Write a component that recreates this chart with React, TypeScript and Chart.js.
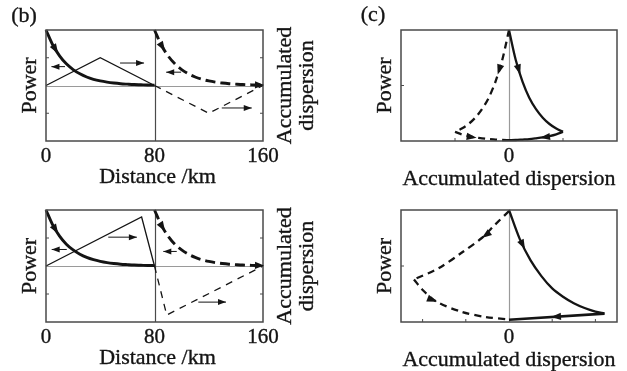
import React, { useEffect, useRef } from "react";
import { Chart, registerables } from "chart.js";

Chart.register(...registerables);

// ---------------- data ----------------
// (b) distance axis
const distanceTickValues = [0, 80, 160];
const distanceTickLabels = ["0", "80", "160"];
// power along one 80 km span (normalised)
const span1Km = [0, 5, 10, 15, 20, 25, 30, 35, 40, 45, 50, 55, 60, 65, 70, 75, 80];
const span2Km = [80, 85, 90, 95, 100, 105, 110, 115, 120, 125, 130, 135, 140, 145, 150, 155, 160];
const spanPower = [1, 0.73, 0.535, 0.39, 0.287, 0.21, 0.153, 0.112, 0.082, 0.06, 0.044, 0.032, 0.024, 0.017, 0.013, 0.009, 0.007];

// (b) top: accumulated dispersion
const dispTopSolidKm = [0, 40, 80];
const dispTopSolid = [0, 1, 0];
const dispTopDashKm = [80, 120, 160];
const dispTopDash = [0, -1, 0];
// (b) bottom: accumulated dispersion
const dispBotSolidKm = [0, 70.5, 80];
const dispBotSolid = [0, 1.75, 0];
const dispBotDashKm = [80, 89, 160];
const dispBotDash = [0, -1.75, 0];

// (b) small direction arrows [x1, y1, x2, y2] in (km, dispersion units)
const bTopArrows = [
  [14, 0.68, 4, 0.68],
  [54.6, 0.81, 72.3, 0.81],
  [99.6, 0.48, 88.6, 0.48],
  [129.6, -0.81, 151.7, -0.81],
];
const bBotArrows = [
  [15.3, 0.59, 4.2, 0.59],
  [45.9, 1.03, 67, 1.03],
  [96.4, 0.52, 86.5, 0.52],
  [112.3, -1.29, 132.7, -1.29],
];

// (c) top: power vs accumulated dispersion
const cTopOutD = [0, 0.125, 0.25, 0.375, 0.5, 0.625, 0.75, 0.875, 1];
const cTopOutP = [1, 0.73, 0.535, 0.39, 0.287, 0.21, 0.153, 0.112, 0.082];
const cTopBackD = [1, 0.875, 0.75, 0.625, 0.5, 0.375, 0.25, 0.125, 0];
const cTopBackP = [0.082, 0.06, 0.044, 0.032, 0.024, 0.017, 0.013, 0.009, 0.007];
const cTopDashOutD = [0, -0.125, -0.25, -0.375, -0.5, -0.625, -0.75, -0.875, -1];
const cTopDashBackD = [-1, -0.875, -0.75, -0.625, -0.5, -0.375, -0.25, -0.125, 0];

// (c) bottom
const cBotOutD = [0, 0.25, 0.5, 0.75, 1, 1.25, 1.5, 1.75, 2, 2.21];
const cBotOutP = [1, 0.74, 0.55, 0.41, 0.3, 0.226, 0.168, 0.125, 0.093, 0.075];
const cBotBackD = [2.21, 0];
const cBotBackP = [0.075, 0.02];
const cBotDashOutD = [0, -0.32, -0.63, -1.09, -1.63, -2.2];
const cBotDashOutP = [0.99, 0.87, 0.75, 0.62, 0.48, 0.38];
const cBotDashBackD = [-2.2, -2.01, -1.67, -1.09, -0.55, 0];
const cBotDashBackP = [0.38, 0.29, 0.18, 0.09, 0.045, 0.022];

const zeroTickLabel = ["0"];
const powerTitle = "Power";
const distanceTitle = "Distance /km";
const dispersionTitleLines = ["Accumulated", "dispersion"];
const dispersionTitle = "Accumulated dispersion";

// ---------------- styling ----------------
const INK = "#141414";
const FRAME = "#4a4a4a";
const ZERO = "#9a9a9a";
const FONT = '"Liberation Serif", "Times New Roman", serif';

function series(xs: number[], ys: number[], opts: any) {
  return {
    data: xs.map((x, i) => ({ x, y: ys[i] })),
    pointRadius: 0,
    borderColor: INK,
    backgroundColor: INK,
    fill: false,
    clip: false,
    ...opts,
  };
}

function drawHead(ctx: CanvasRenderingContext2D, x: number, y: number, dx: number, dy: number, len: number, half: number) {
  const m = Math.hypot(dx, dy) || 1;
  const ux = dx / m, uy = dy / m;
  const bx = x - ux * len, by = y - uy * len;
  ctx.beginPath();
  ctx.moveTo(x, y);
  ctx.lineTo(bx - uy * half, by + ux * half);
  ctx.lineTo(bx + uy * half, by - ux * half);
  ctx.closePath();
  ctx.fill();
}

function boldText(ctx: CanvasRenderingContext2D, s: string, x: number, y: number) {
  ctx.fillText(s, x, y);
  ctx.strokeText(s, x, y);
}

const panelPlugin = {
  id: "panelDecor",
  beforeDatasetsDraw(chart: any, _a: any, o: any) {
    const { ctx, chartArea: a } = chart;
    ctx.save();
    ctx.lineWidth = 1.2;
    if (o.hZeroAxis) {
      const y = Math.round(chart.scales[o.hZeroAxis].getPixelForValue(0)) + 0.5;
      ctx.strokeStyle = ZERO;
      ctx.beginPath(); ctx.moveTo(a.left, y); ctx.lineTo(a.right, y); ctx.stroke();
    }
    if (o.vLine !== undefined) {
      const x = Math.round(chart.scales.x.getPixelForValue(o.vLine)) + 0.5;
      ctx.strokeStyle = o.vLineColor;
      ctx.beginPath(); ctx.moveTo(x, a.top); ctx.lineTo(x, a.bottom); ctx.stroke();
    }
    ctx.strokeStyle = FRAME;
    ctx.lineWidth = 1;
    (o.leftTicks || []).forEach((v: number) => {
      const y = chart.scales[o.leftAxis].getPixelForValue(v);
      ctx.beginPath(); ctx.moveTo(a.left, y); ctx.lineTo(a.left + 3, y); ctx.stroke();
    });
    (o.rightTicks || []).forEach((v: number) => {
      const y = chart.scales[o.rightAxis].getPixelForValue(v);
      ctx.beginPath(); ctx.moveTo(a.right, y); ctx.lineTo(a.right - 3, y); ctx.stroke();
    });
    (o.bottomTicks || []).forEach((v: number) => {
      const x = chart.scales.x.getPixelForValue(v);
      ctx.beginPath(); ctx.moveTo(x, a.bottom); ctx.lineTo(x, a.bottom - 3); ctx.stroke();
    });
    ctx.restore();
  },
  afterDatasetsDraw(chart: any, _a: any, o: any) {
    const { ctx, chartArea: a } = chart;
    ctx.save();
    ctx.strokeStyle = FRAME;
    ctx.lineWidth = 1.5;
    ctx.strokeRect(a.left, a.top, a.right - a.left, a.bottom - a.top);
    ctx.fillStyle = INK;
    ctx.strokeStyle = INK;
    chart.data.datasets.forEach((ds: any, i: number) => {
      const pts = chart.getDatasetMeta(i).data;
      (ds.arrowAt || []).forEach((at: number) => {
        const k = Math.floor(at), t = at - k;
        const p0 = pts[k], p1 = pts[k + 1];
        const x = p0.x + (p1.x - p0.x) * t, y = p0.y + (p1.y - p0.y) * t;
        drawHead(ctx, x, y, p1.x - p0.x, p1.y - p0.y, 10, 3.6);
      });
      if (ds.arrowEnd) {
        const p0 = pts[pts.length - 2], p1 = pts[pts.length - 1];
        drawHead(ctx, p1.x + 1, p1.y, p1.x - p0.x, p1.y - p0.y, 9, 3.6);
      }
    });
    if (o.arrows) {
      const ys = chart.scales[o.arrowAxis];
      ctx.lineWidth = 1;
      o.arrows.forEach((ar: number[]) => {
        const x1 = chart.scales.x.getPixelForValue(ar[0]);
        const y1 = ys.getPixelForValue(ar[1]);
        const x2 = chart.scales.x.getPixelForValue(ar[2]);
        const y2 = ys.getPixelForValue(ar[3]);
        ctx.beginPath(); ctx.moveTo(x1, y1); ctx.lineTo(x2, y2); ctx.stroke();
        drawHead(ctx, x2, y2, x2 - x1, y2 - y1, 8, 3);
      });
    }
    ctx.fillStyle = INK;
    ctx.strokeStyle = INK;
    ctx.lineWidth = 0.35;
    ctx.textAlign = "center";
    ctx.textBaseline = "middle";
    if (o.tag) {
      ctx.font = `22px ${FONT}`;
      boldText(ctx, o.tag, o.tagX, o.tagY);
    }
    ctx.font = `21px ${FONT}`;
    (o.tickValues || []).forEach((v: number, i: number) => {
      boldText(ctx, o.tickLabels[i], chart.scales.x.getPixelForValue(v), a.bottom + 15);
    });
    ctx.font = `22px ${FONT}`;
    if (o.xTitle) boldText(ctx, o.xTitle, (a.left + a.right) / 2 + (o.xTitleShift || 0), a.bottom + o.xTitleGap);
    const cy = (a.top + a.bottom) / 2;
    if (o.yTitle) {
      ctx.save(); ctx.translate(a.left - 16, cy); ctx.rotate(-Math.PI / 2);
      boldText(ctx, o.yTitle, 0, 0); ctx.restore();
    }
    (o.y2Title || []).forEach((line: string, i: number) => {
      ctx.save(); ctx.translate(a.right + 22 + i * 22, cy); ctx.rotate(-Math.PI / 2);
      boldText(ctx, line, 0, 0); ctx.restore();
    });
    ctx.restore();
  },
};

function bConfig(bottom: boolean) {
  const dsK = bottom ? dispBotSolidKm : dispTopSolidKm;
  const ds = bottom ? dispBotSolid : dispTopSolid;
  const ddK = bottom ? dispBotDashKm : dispTopDashKm;
  const dd = bottom ? dispBotDash : dispTopDash;
  return {
    type: "line",
    data: {
      datasets: [
        series(dsK, ds, { yAxisID: "yD", borderWidth: 1.3, tension: 0 }),
        series(ddK, dd, { yAxisID: "yD", borderWidth: 1.3, tension: 0, borderDash: [7, 6] }),
        series(span1Km, spanPower, { yAxisID: "yP", borderWidth: 2.9, cubicInterpolationMode: "monotone", arrowAt: [1.8] }),
        series(span2Km, spanPower, { yAxisID: "yP", borderWidth: 2.9, cubicInterpolationMode: "monotone", borderDash: [10, 5], arrowAt: [1.56], arrowEnd: true }),
      ],
    },
    options: {
      animation: false,
      responsive: false,
      devicePixelRatio: 1,
      events: [],
      layout: { padding: bottom ? { left: 46, top: 25, right: 57, bottom: 49 } : { left: 46, top: 30, right: 57, bottom: 49 } },
      scales: {
        x: { type: "linear", min: 0, max: 160, display: false },
        yP: { type: "linear", position: "left", min: -1, max: 1, display: false },
        yD: { type: "linear", position: "right", min: -2, max: 2, display: false },
      },
      plugins: {
        legend: { display: false },
        tooltip: { enabled: false },
        panelDecor: {
          hZeroAxis: "yD",
          vLine: 80,
          vLineColor: FRAME,
          leftAxis: "yP",
          leftTicks: [-0.5, 0.5],
          rightAxis: "yD",
          rightTicks: [-1, 1],
          arrows: bottom ? bBotArrows : bTopArrows,
          arrowAxis: "yD",
          tag: bottom ? null : "(b)",
          tagX: 24,
          tagY: 16,
          tickValues: distanceTickValues,
          tickLabels: distanceTickLabels,
          xTitle: distanceTitle,
          xTitleShift: 3,
          xTitleGap: 36,
          yTitle: powerTitle,
          y2Title: dispersionTitleLines,
        },
      },
    },
    plugins: [panelPlugin],
  };
}

function cConfig(bottom: boolean) {
  const datasets = bottom
    ? [
        series(cBotOutD, cBotOutP, { borderWidth: 2.3, tension: 0.3, arrowAt: [1.48] }),
        series(cBotBackD, cBotBackP, { borderWidth: 2.6, tension: 0, arrowAt: [0.56] }),
        series(cBotDashOutD, cBotDashOutP, { borderWidth: 2.3, tension: 0.3, borderDash: [7, 5], arrowAt: [2] }),
        series(cBotDashBackD, cBotDashBackP, { borderWidth: 2.3, tension: 0.3, borderDash: [7, 5], arrowAt: [2] }),
      ]
    : [
        series(cTopOutD, cTopOutP, { borderWidth: 2.3, tension: 0.3, arrowAt: [1.67] }),
        series(cTopBackD, cTopBackP, { borderWidth: 2.3, tension: 0.3, arrowAt: [3.4] }),
        series(cTopDashOutD, cTopOutP, { borderWidth: 2.3, tension: 0.3, borderDash: [7, 5], arrowAt: [1.67] }),
        series(cTopDashBackD, cTopBackP, { borderWidth: 2.3, tension: 0.3, borderDash: [7, 5], arrowAt: [3.2] }),
      ];
  const lim = bottom ? 2.5 : 2;
  return {
    type: "line",
    data: { datasets },
    options: {
      animation: false,
      responsive: false,
      devicePixelRatio: 1,
      events: [],
      layout: { padding: bottom ? { left: 61, top: 25, right: 10, bottom: 49 } : { left: 61, top: 30, right: 10, bottom: 49 } },
      scales: {
        x: { type: "linear", min: -lim, max: lim, display: false },
        y: { type: "linear", min: 0, max: 1, display: false },
      },
      plugins: {
        legend: { display: false },
        tooltip: { enabled: false },
        panelDecor: {
          vLine: 0,
          vLineColor: ZERO,
          leftAxis: "y",
          leftTicks: [0.5],
          bottomTicks: bottom ? [-2, -1, 1, 2] : [-1, 1],
          tag: bottom ? null : "(c)",
          tagX: 33,
          tagY: 15,
          tickValues: [0],
          tickLabels: zeroTickLabel,
          xTitle: dispersionTitle,
          xTitleGap: 38,
          yTitle: powerTitle,
        },
      },
    },
    plugins: [panelPlugin],
  };
}

function Panel({ left, top, width, height, make }: any) {
  const ref = useRef<HTMLCanvasElement>(null);
  useEffect(() => {
    const chart = new Chart(ref.current as HTMLCanvasElement, make() as any);
    return () => chart.destroy();
  }, []);
  return (
    <canvas
      ref={ref}
      width={width}
      height={height}
      style={{ position: "absolute", left, top, width, height }}
    />
  );
}

export default function App() {
  return (
    <div style={{ position: "absolute", left: 0, top: 0, width: 627, height: 371, background: "#fff", overflow: "hidden" }}>
      <Panel left={0} top={0} width={320} height={190} make={() => bConfig(false)} />
      <Panel left={0} top={185} width={320} height={186} make={() => bConfig(true)} />
      <Panel left={340} top={0} width={287} height={190} make={() => cConfig(false)} />
      <Panel left={340} top={185} width={287} height={186} make={() => cConfig(true)} />
    </div>
  );
}
